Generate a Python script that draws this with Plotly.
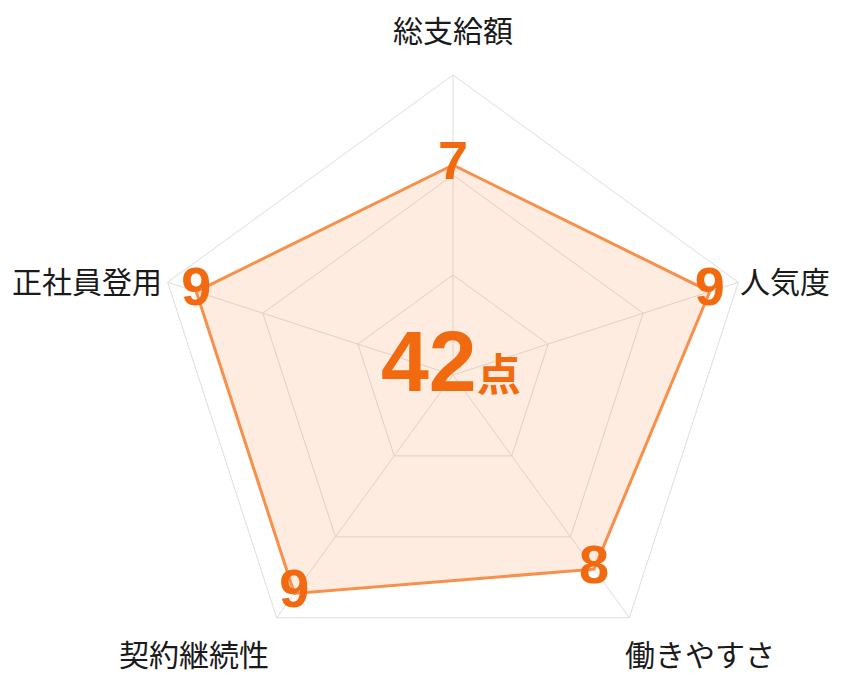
import math
import plotly.graph_objects as go

# 評価項目と点数
categories = ["総支給額", "人気度", "働きやすさ", "契約継続性", "正社員登用"]
scores = [7, 9, 8, 9, 9]
score_max = 10
grid_steps = [10 / 3, 20 / 3, 10]

total = sum(scores)

line_color = "#F7904A"
text_color = "#F26A0F"

# close the polygon
r = scores + scores[:1]
theta = categories + categories[:1]
labels = [str(s) for s in scores] + [""]

fig = go.Figure()

fig.add_trace(go.Scatterpolar(
    r=r,
    theta=theta,
    mode="lines+text",
    text=labels,
    textposition="middle center",
    textfont=dict(family="Liberation Sans", size=54, color=text_color, weight="bold"),
    line=dict(color=line_color, width=3),
    fill="toself",
    fillcolor="rgba(247,144,74,0.17)",
    hoverinfo="skip",
))

# polar domain: centre / radius in px (page has an 8px body margin)
W, H = 844, 680
cx, cy, R = 445, 367, 300
dom_x = [(cx - R) / W, (cx + R) / W]
dom_y = [(H - cy - R) / H, (H - cy + R) / H]

fig.update_layout(
    width=W,
    height=H,
    margin=dict(l=0, r=0, t=0, b=0),
    paper_bgcolor="white",
    showlegend=False,
    polar=dict(
        domain=dict(x=dom_x, y=dom_y),
        bgcolor="white",
        gridshape="linear",
        radialaxis=dict(
            range=[0, score_max],
            tickvals=grid_steps,
            showticklabels=False,
            ticks="",
            showline=False,
            gridcolor="#DDDDDD",
            gridwidth=1,
        ),
        angularaxis=dict(
            rotation=90,
            direction="clockwise",
            ticks="",
            showticklabels=False,
            showline=True,
            linecolor="#DDDDDD",
            linewidth=1,
            gridcolor="#DDDDDD",
        ),
    ),
)

# category labels around the outer pentagon
n = len(categories)
for i, name in enumerate(categories):
    a = 2 * math.pi * i / n
    sx, sy = math.sin(a), math.cos(a)
    px = cx + R * sx
    py = cy - R * sy
    if abs(sx) < 0.1:
        xanchor, xs = "center", 0
    elif sx > 0:
        xanchor, xs = "left", 0 if sy > 0 else -6
    else:
        xanchor, xs = "right", -4 if sy > 0 else -6
    if sy > 0.9:
        ys = 46
    elif sy > 0:
        ys = 2
    else:
        ys = -35
    fig.add_annotation(
        x=px / W, y=(H - py) / H, xref="paper", yref="paper",
        text=name, showarrow=False,
        xanchor=xanchor, yanchor="middle", xshift=xs, yshift=ys,
        font=dict(family="Noto Sans CJK JP", size=30, color="#1A1A1A"),
    )

fig.add_annotation(
    x=cx / W,
    y=(H - cy) / H,
    xref="paper",
    yref="paper",
    text="<b>%d</b><b><span style='font-size:44px'>点</span></b>" % total,
    showarrow=False,
    font=dict(family="Liberation Sans, Noto Sans CJK JP", size=86, color=text_color),
    xshift=-2,
    yshift=14,
)

fig.write_html("out.html")
